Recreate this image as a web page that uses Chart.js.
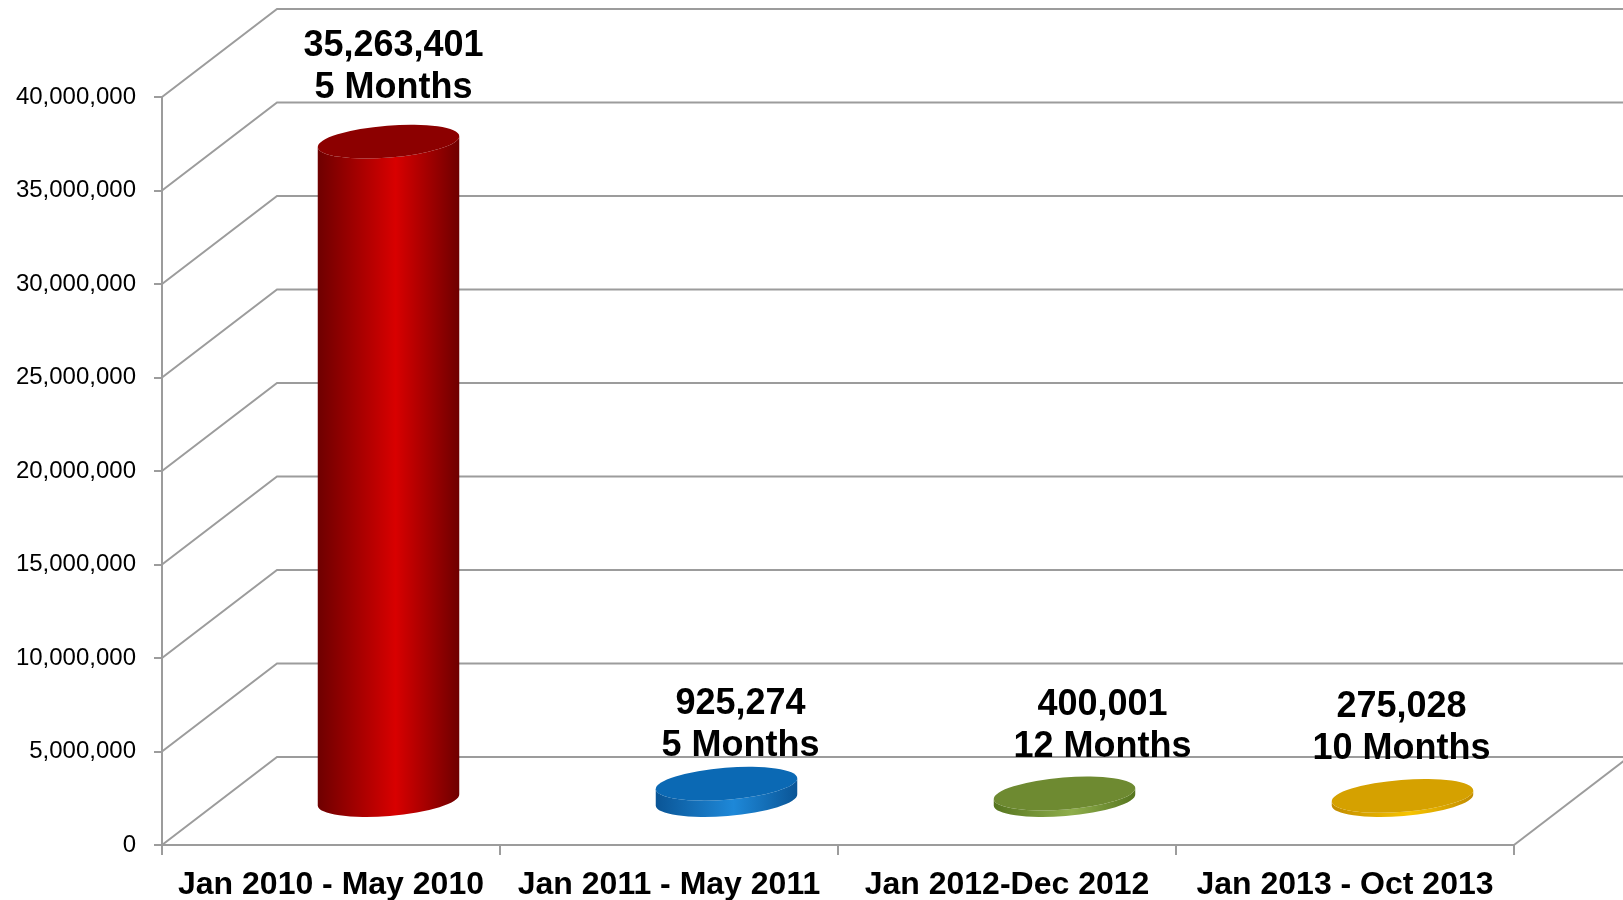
<!DOCTYPE html>
<html>
<head>
<meta charset="utf-8">
<script src="https://cdn.jsdelivr.net/npm/chart.js@4.4.1/dist/chart.umd.min.js"></script>
<style>
html, body { margin: 0; padding: 0; background: #fff; }
canvas { display: block; }
</style>
</head>
<body>
<canvas id="chart" width="1623" height="900"></canvas>
<script>
// data
const categories = ['Jan 2010 - May 2010', 'Jan 2011 - May 2011', 'Jan 2012-Dec 2012', 'Jan 2013 - Oct 2013'];
const values = [35263401, 925274, 400001, 275028];
const durations = ['5 Months', '5 Months', '12 Months', '10 Months'];
const yMax = 40000000;
const yStep = 5000000;

// look of the 3d box and cylinders
const DEPTH_X = 115, DEPTH_Y = -88;
const GRID_COLOR = '#9c9c9c';
const ELL_RY = 16, ELL_TILT = -0.08;
const cylColors = [
    { dark: '#6e0000', light: '#d80000', top: '#8c0000' },
    { dark: '#0a5596', light: '#1e88d8', top: '#0b69b4' },
    { dark: '#56751f', light: '#8fae4c', top: '#6e8a31' },
    { dark: '#c28c00', light: '#f7c400', top: '#d5a100' }
];
const labelShiftX = [5, 14, 38, -1];
const labelShiftY = [-1, 14, 6, 5];

const wallPlugin = {
    id: 'walls',
    beforeDatasetsDraw(chart) {
        const { ctx, chartArea, scales } = chart;
        const y = scales.y;
        ctx.save();
        ctx.strokeStyle = GRID_COLOR;
        ctx.lineWidth = 2;
        y.ticks.forEach(t => {
            const py = y.getPixelForValue(t.value);
            ctx.beginPath();
            ctx.moveTo(chartArea.left, py);
            ctx.lineTo(chartArea.left + DEPTH_X, py + DEPTH_Y);
            ctx.lineTo(chart.width, py + DEPTH_Y);
            ctx.stroke();
        });
        ctx.beginPath();
        ctx.moveTo(chartArea.right, chartArea.bottom);
        ctx.lineTo(chartArea.right + DEPTH_X, chartArea.bottom + DEPTH_Y);
        ctx.stroke();
        ctx.restore();
    }
};

function drawCylinder(ctx, cx, yTop, yBot, rx, col) {
    let g = ctx.createLinearGradient(cx - rx, 0, cx + rx, 0);
    g.addColorStop(0, col.dark);
    g.addColorStop(0.55, col.light);
    g.addColorStop(1, col.dark);
    ctx.fillStyle = g;
    ctx.beginPath();
    ctx.ellipse(cx, yBot, rx, ELL_RY, ELL_TILT, 0, Math.PI, false);
    ctx.ellipse(cx, yTop, rx, ELL_RY, ELL_TILT, Math.PI, 0, true);
    ctx.closePath();
    ctx.fill();

    ctx.fillStyle = col.top;
    ctx.beginPath();
    ctx.ellipse(cx, yTop, rx, ELL_RY, ELL_TILT, 0, Math.PI * 2);
    ctx.fill();
}

const cylinderPlugin = {
    id: 'cylinders',
    afterDatasetsDraw(chart) {
        const ctx = chart.ctx;
        const meta = chart.getDatasetMeta(0);
        ctx.save();
        meta.data.forEach((bar, i) => {
            const p = bar.getProps(['x', 'y', 'base', 'width'], true);
            const cx = p.x + DEPTH_X / 2;
            const yTop = p.y + DEPTH_Y / 2;
            const yBot = p.base + DEPTH_Y / 2;
            drawCylinder(ctx, cx, yTop, yBot, p.width / 2, cylColors[i]);

            const lx = cx + labelShiftX[i];
            const l2 = yTop - ELL_RY - 36 + labelShiftY[i];
            ctx.fillStyle = '#000';
            ctx.font = 'bold 36px "Liberation Sans", Arial, sans-serif';
            ctx.textAlign = 'center';
            ctx.textBaseline = 'middle';
            ctx.fillText(values[i].toLocaleString('en-US'), lx, l2 - 42);
            ctx.fillText(durations[i], lx, l2);
        });
        ctx.restore();
    }
};

new Chart(document.getElementById('chart').getContext('2d'), {
    type: 'bar',
    data: {
        labels: categories,
        datasets: [{
            data: values,
            backgroundColor: 'rgba(0,0,0,0)',
            barPercentage: 0.42,
            categoryPercentage: 1
        }]
    },
    options: {
        responsive: false,
        animation: false,
        devicePixelRatio: 1,
        layout: { padding: { top: 97, right: 109, left: 0, bottom: 0 } },
        plugins: { legend: { display: false }, tooltip: { enabled: false } },
        scales: {
            x: {
                grid: { drawOnChartArea: false, color: GRID_COLOR, lineWidth: 2, tickLength: 10 },
                border: { color: GRID_COLOR, width: 2 },
                ticks: {
                    color: '#000',
                    padding: 11,
                    maxRotation: 0,
                    font: { family: '"Liberation Sans", Arial, sans-serif', size: 32, weight: 'bold' }
                },
                afterFit(scale) { scale.height = 55; }
            },
            y: {
                min: 0,
                max: yMax,
                grid: { drawOnChartArea: false, color: GRID_COLOR, lineWidth: 2, tickLength: 8 },
                border: { color: GRID_COLOR, width: 2 },
                ticks: {
                    stepSize: yStep,
                    color: '#000',
                    padding: 18,
                    font: { family: '"Liberation Sans", Arial, sans-serif', size: 24 },
                    callback: v => v.toLocaleString('en-US')
                },
                afterFit(scale) { scale.width = 162; }
            }
        }
    },
    plugins: [wallPlugin, cylinderPlugin]
});
</script>
</body>
</html>
